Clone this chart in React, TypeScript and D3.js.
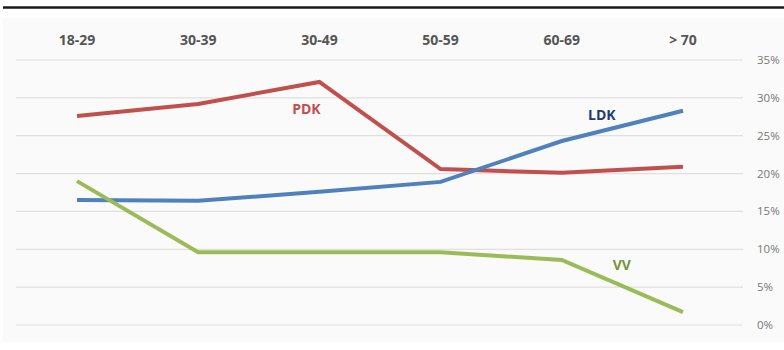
import React from "react";
import * as d3 from "d3";

const categories = ["18-29", "30-39", "30-49", "50-59", "60-69", "> 70"];
const pdk = [27.6, 29.2, 32.1, 20.6, 20.1, 20.9];
const ldk = [16.5, 16.4, 17.6, 18.9, 24.3, 28.3];
const vv = [19.0, 9.6, 9.6, 9.6, 8.6, 1.7];
const yTicks = [0, 5, 10, 15, 20, 25, 30, 35];

const series = [
  { name: "PDK", values: pdk, color: "#c0504d", labelColor: "#c0504d", labelIdx: 2, dx: -13, dy: 32 },
  { name: "LDK", values: ldk, color: "#4f81bd", labelColor: "#1f3d6b", labelIdx: 4, dx: 40, dy: -21 },
  { name: "VV", values: vv, color: "#9bbb59", labelColor: "#77933c", labelIdx: 4, dx: 60, dy: 10 },
];

export default function App() {
  const W = 784, H = 350;
  const x = d3.scalePoint<string>().domain(categories).range([77, 683]);
  const y = d3.scaleLinear().domain([0, 35]).range([325, 60]);
  const line = d3.line<number>().x((_, i) => x(categories[i])!).y((d) => y(d));
  const font = "'Open Sans', 'Liberation Sans', sans-serif";
  return (
    <svg width={W} height={H} style={{ position: "absolute", left: 0, top: 0, background: "#fff" }}>
      <rect x={3} y={18} width={781} height={324} fill="#fafafa" />
      <line x1={3} x2={784} y1={7.5} y2={7.5} stroke="#1a1a1a" strokeWidth={2.5} />
      {yTicks.map((t) => (
        <g key={t}>
          <line x1={16} x2={743} y1={y(t)} y2={y(t)} stroke="#e2dfdc" strokeWidth={1.2} />
          <text x={757} y={y(t) + 4} fontSize={11.5} fill="#777" fontFamily={font}>{t}%</text>
        </g>
      ))}
      {categories.map((c) => (
        <text key={c} x={x(c)} y={45} textAnchor="middle" fontSize={14} fontWeight="bold" fill="#555" fontFamily={font}>{c}</text>
      ))}
      {series.map((s) => (
        <g key={s.name}>
          <path d={line(s.values)!} fill="none" stroke={s.color} strokeWidth={4} strokeLinejoin="miter" />
          <text x={x(categories[s.labelIdx])! + s.dx} y={y(s.values[s.labelIdx]) + s.dy} textAnchor="middle" fontSize={14} fontWeight="bold" fill={s.labelColor} fontFamily={font}>{s.name}</text>
        </g>
      ))}
    </svg>
  );
}
